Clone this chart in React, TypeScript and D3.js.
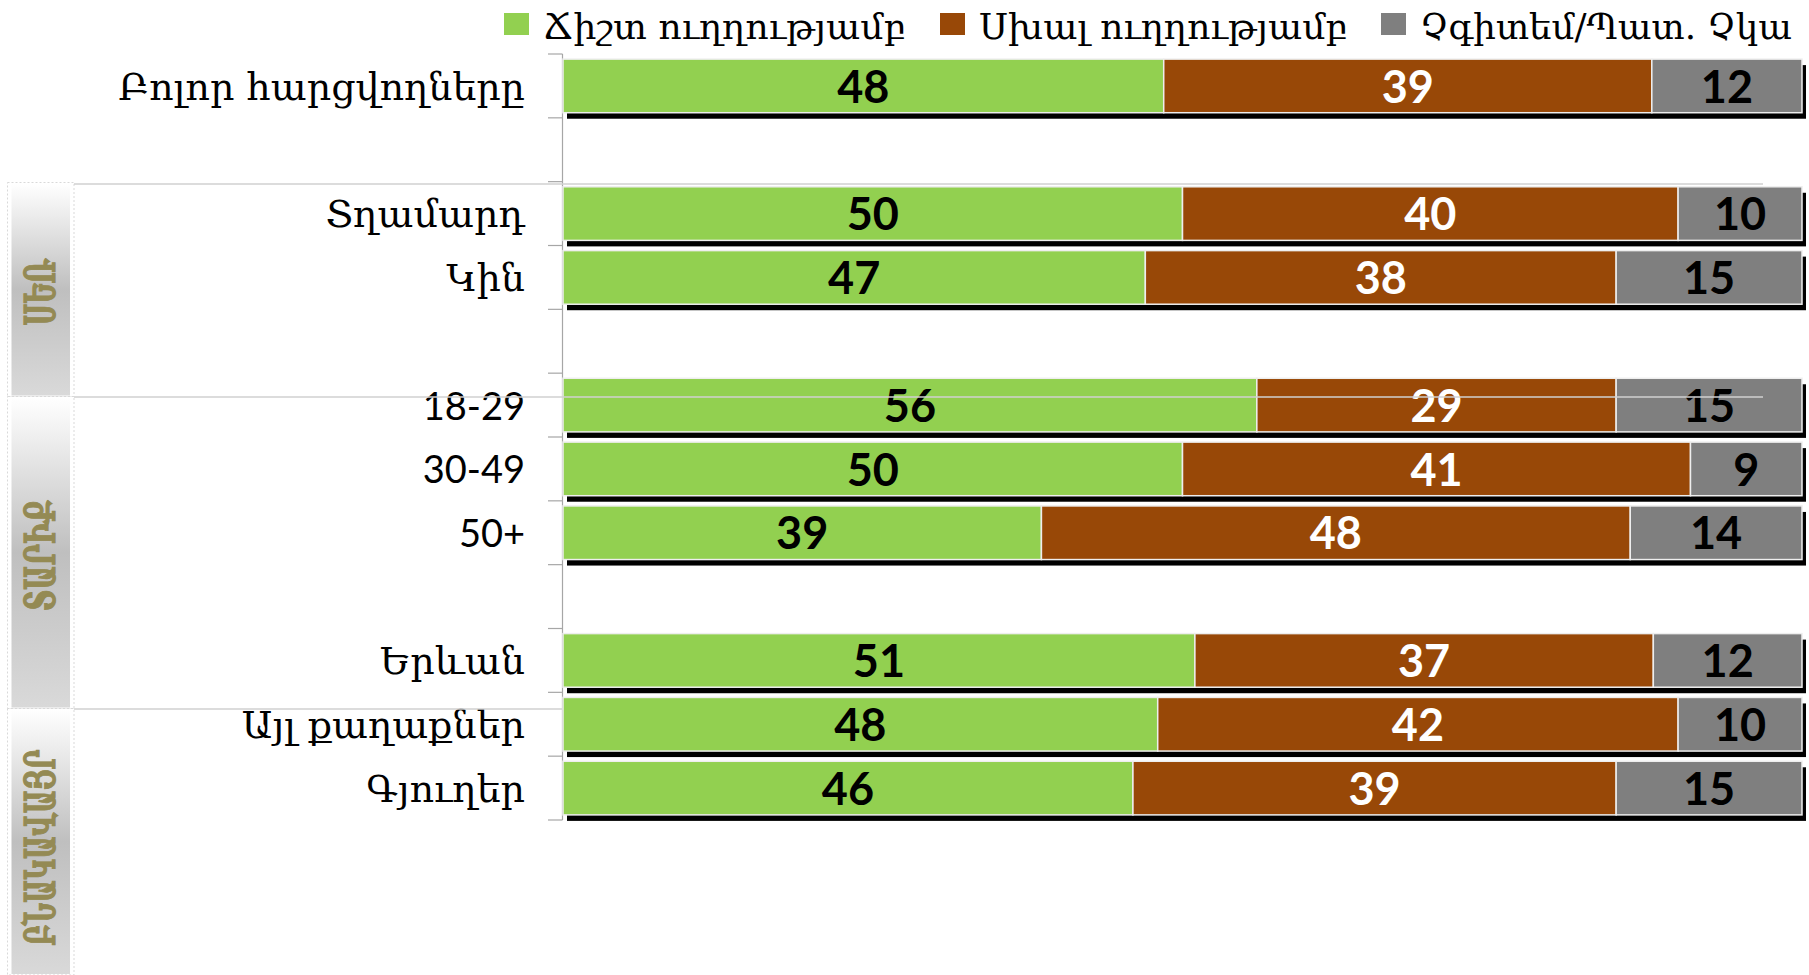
import * as d3 from 'd3';
import { useEffect } from 'react';

const rows = ['Բոլոր հարցվողները', 'gap1', 'Տղամարդ', 'Կին', 'gap2', '18-29', '30-49', '50+', 'gap3', 'Երևան', 'Այլ քաղաքներ', 'Գյուղեր'];
const categories = ['Բոլոր հարցվողները', 'Տղամարդ', 'Կին', '18-29', '30-49', '50+', 'Երևան', 'Այլ քաղաքներ', 'Գյուղեր'];
const rightDir = [48, 50, 47, 56, 50, 39, 51, 48, 46];
const wrongDir = [39, 40, 38, 29, 41, 48, 37, 42, 39];
const dontKnow = [12, 10, 15, 15, 9, 14, 12, 10, 15];
const seriesNames = ['Ճիշտ ուղղությամբ', 'Սխալ ուղղությամբ', 'Չգիտեմ/Պատ. Չկա'];
const groupNames = ['ՍԵՌ', 'ՏԱՐԻՔ', 'ԲՆԱԿԱՎԱՅՐ'];

const colors = ['#92D050', '#984807', '#7F7F7F'];
const labelColors = ['#000', '#fff', '#000'];
const keys = ['right', 'wrong', 'dk'];

const W = 1809;
const H = 975;
const armFont = '"DejaVu Serif", serif';
const numFont = 'Lato, "Open Sans", sans-serif';

export default function App() {
  useEffect(() => {
    document.body.style.margin = '0';
  }, []);

  const data = categories.map((c, i) => ({ cat: c, right: rightDir[i], wrong: wrongDir[i], dk: dontKnow[i] }));
  const stacked = d3.stack<any>().keys(keys).offset(d3.stackOffsetExpand)(data);

  const x = d3.scaleLinear().domain([0, 1]).range([563, 1802]);
  const y = d3.scaleBand().domain(rows).range([54, 820]).paddingInner(0.16).paddingOuter(0.08);
  const step = y.step();
  const ticks = d3.range(0, rows.length + 1).map(i => 54 + i * step);

  // textbox edges of the group boxes on the left, and how long each rotated title runs
  const boxEdges = [182.5, 396.5, 708.5, 975];
  const groupLen = [66, 111, 196];
  const legendX = [504, 940, 1381];
  const legendLen = [363, 369, 372];
  const isArm = (s: string) => /[\u0530-\u058F]/.test(s);

  return (
    <svg width={W} height={H} style={{ display: 'block', background: '#fff' }}>
      <defs>
        <linearGradient id="boxGrad" x1="0" y1="0" x2="0" y2="1">
          <stop offset="0%" stopColor="#ffffff" />
          <stop offset="50%" stopColor="#bfbfbf" />
          <stop offset="100%" stopColor="#d9d9d9" />
        </linearGradient>
      </defs>

      {/* group boxes */}
      {groupNames.map((g, i) => {
        const y0 = boxEdges[i];
        const y1 = boxEdges[i + 1];
        const cy = (y0 + y1) / 2 + (i === 2 ? 6 : 3);
        return (
          <g key={g}>
            <rect x={7.5} y={y0} width={66.5} height={y1 - y0} fill="none" stroke="#d9d9d9" strokeDasharray="2,2" />
            <rect x={11.5} y={y0 + 1} width={58.5} height={y1 - y0 - 2} fill="url(#boxGrad)" />
            <text transform={`translate(${40},${cy}) rotate(-90)`} textAnchor="middle" dy="0.36em"
              textLength={groupLen[i]} lengthAdjust="spacingAndGlyphs"
              fill="#948A54" stroke="#948A54" strokeWidth={1.2}
              fontFamily={armFont} fontWeight="bold" fontSize={42}>{g}</text>
          </g>
        );
      })}

      {/* axis */}
      <line x1={562.5} x2={562.5} y1={54} y2={820} stroke="#a6a6a6" strokeWidth={1.2} />
      {ticks.map((t, i) => (
        <line key={i} x1={548} x2={562.5} y1={t} y2={t} stroke="#a6a6a6" strokeWidth={1.2} />
      ))}

      {/* category labels */}
      {categories.map(c => (
        <text key={c} x={525} y={(y(c) ?? 0) + y.bandwidth() / 2} dy={isArm(c) ? '0.36em' : '0.38em'} textAnchor="end"
          fontFamily={isArm(c) ? armFont : numFont} fontSize={38} fill="#000">{c}</text>
      ))}

      {/* shadows */}
      {categories.map(c => (
        <rect key={c} x={x(0) + 4} y={(y(c) ?? 0) + 6} width={x(1) - x(0)} height={y.bandwidth()} fill="#000" />
      ))}

      {/* bars */}
      {stacked.map((s, si) => (
        <g key={s.key}>
          {s.map(d => (
            <rect key={d.data.cat} x={x(d[0])} y={y(d.data.cat)} width={x(d[1]) - x(d[0])} height={y.bandwidth()}
              fill={colors[si]} stroke="#eeeeee" strokeWidth={1.5} />
          ))}
        </g>
      ))}

      {/* value labels */}
      {stacked.map((s, si) => (
        <g key={s.key}>
          {s.map(d => (
            <text key={d.data.cat} x={(x(d[0]) + x(d[1])) / 2} y={(y(d.data.cat) ?? 0) + y.bandwidth() / 2}
              dy="0.37em" textAnchor="middle" fontFamily={numFont} fontWeight="bold" fontSize={45}
              fill={labelColors[si]}>{d.data[s.key]}</text>
          ))}
        </g>
      ))}

      {/* stray textbox borders */}
      <line x1={74} x2={1763} y1={184} y2={184} stroke="#d0d0d0" strokeWidth={1.5} />
      <line x1={74} x2={1763} y1={397} y2={397} stroke="#d0d0d0" strokeWidth={1.5} />
      <line x1={74} x2={562} y1={709} y2={709} stroke="#d0d0d0" strokeWidth={1.5} />

      {/* legend */}
      {seriesNames.map((n, i) => (
        <g key={n}>
          <rect x={legendX[i]} y={13} width={25} height={22} fill={colors[i]} />
          <text x={legendX[i] + 39} y={39} fontFamily={armFont} fontSize={36} fill="#000"
            textLength={legendLen[i]} lengthAdjust="spacingAndGlyphs">{n}</text>
        </g>
      ))}
    </svg>
  );
}
